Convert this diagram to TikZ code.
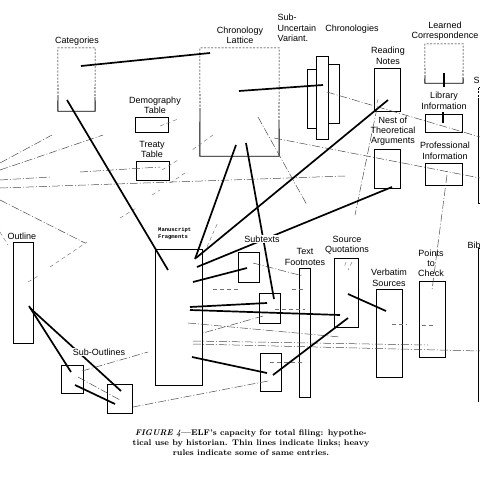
\documentclass[tikz,border=0pt]{standalone}
\usepackage{fontspec}
\newfontfamily\labfont{Liberation Sans}
\newfontfamily\typfont{Liberation Mono}
\usetikzlibrary{fit}
\begin{document}
\begin{tikzpicture}[x=1pt,y=-1pt,
  boxline/.style={line width=0.9pt},
  box/.style={draw, boxline, inner sep=0pt},
  ibox/.style={inner sep=0pt},
  dotedge/.style={line width=0.6pt, dash pattern=on 2pt off 1.5pt},
  lab/.style={font=\labfont\fontsize{9}{10.5}\selectfont, align=center, inner sep=0.5pt},
  heavy/.style={line width=1.7pt},
  link/.style={line width=0.5pt, draw=black!70, dash pattern=on 8pt off 2pt on 1pt off 2pt},
  faint/.style={line width=0.45pt, draw=black!55, dash pattern=on 4pt off 3pt}
]
\useasboundingbox (0,0) rectangle (480,480);

% ---------- boxes ----------
\node[ibox, fit={(58,48) (95,111)}] (cat) {};
\draw[boxline] (58,97) -- (cat.south west) -- (cat.south east) -- (95,97);
\draw[dotedge] (58,97) -- (cat.north west) -- (cat.north east) -- (95,97);

\node[ibox, fit={(200,48) (279,156)}] (chron) {};
\draw[boxline] (200,110) -- (chron.south west) -- (chron.south east) -- (279,120);
\draw[dotedge] (200,110) -- (chron.north west) -- (chron.north east) -- (279,120);

\node[box, fit={(307,69) (320,128)}] (scA) {};
\node[box, fit={(327,64) (339,123)}] (scC) {};
\node[box, fill=white, fit={(316,56) (328,139)}] (scB) {};

\node[box, fit={(374,68) (400,111)}] (reading) {};
\node[box, fit={(374,149) (400,188)}] (nest) {};

\node[ibox, fit={(425,44) (463,83)}] (learned) {};
\draw[boxline] (425,77) -- (learned.south west) -- (learned.south east) -- (463,77);
\draw[dotedge] (425,77) -- (learned.north west) -- (learned.north east) -- (463,77);

\node[box, fit={(425,114) (462,132)}] (library) {};
\node[box, fit={(425,163) (462,185)}] (prof) {};

\coordinate (sTop) at (478,87);
\coordinate (sBot) at (478,203);
\draw[dotedge] (481,87) -- (sTop) -- (478,100);
\draw[boxline] (478,100) -- (sBot) -- (481,203);

\coordinate (bibTop) at (478,248);
\coordinate (bibBot) at (478,402);
\draw[boxline] (481,248) -- (bibTop) -- (bibBot);

\node[box, fit={(419,281) (445,357)}] (points) {};
\node[box, fit={(376,289) (402,377)}] (verb) {};
\node[box, fit={(334,258) (358,327)}] (srcq) {};
\node[box, fit={(299,268) (310,397)}] (textfn) {};
\node[box, fit={(238,252) (259,282)}] (subt) {};
\node[box, fit={(259,293) (280,323)}] (bTwo) {};
\node[box, fit={(260,353) (281,391)}] (bThree) {};
\node[box, fit={(155,249) (202,385)}] (manu) {};
\node[box, fit={(13,242) (33,343)}] (outline) {};
\node[box, fit={(61,365) (83,393)}] (soA) {};
\node[box, fit={(107,384) (132,413)}] (soB) {};
\node[box, fit={(135,117) (168,132)}] (demo) {};
\node[box, fit={(136,161) (169,180)}] (treaty) {};

% ---------- thin link lines ----------
\foreach \a/\b in {
  {(0,163)}/{(52,135)}, {(0,170)}/{(103,135)}, {(0,180)}/{(50,177)},
  {(0,188)}/{(345,176)}, {(0,200)}/{(85,243)}, {(80,172)}/{(160,167)},
  {(327,92)}/{(480,137)}, {(274,138)}/{(480,178)}, {(258,117)}/{(307,205)},
  {(377,108)}/{(355,215)}, {(447,175)}/{(432,290)},
  {(193,341)}/{(428,345)}, {(193,344)}/{(480,351)}, {(188,323)}/{(340,337)},
  {(263,316)}/{(203,333)}, {(268,381)}/{(133,407)}, {(82,371)}/{(148,352)},
  {(78,377)}/{(120,400)}, {(253,263)}/{(303,276)}}
  \draw[link] \a -- \b;
\foreach \a/\b in {
  {(160,126)}/{(178,119)}, {(162,170)}/{(178,160)}, {(170,183)}/{(185,173)},
  {(152,195)}/{(160,190)}, {(213,135)}/{(192,150)}, {(120,218)}/{(138,207)},
  {(50,267)}/{(87,242)}, {(275,309)}/{(305,309)}, {(270,362)}/{(305,362)},
  {(392,324)}/{(407,324)}, {(422,325)}/{(433,325)}, {(213,289)}/{(240,289)},
  {(292,289)}/{(303,289)}, {(207,247)}/{(218,222)}, {(0,232)}/{(8,245)},
  {(28,282)}/{(40,275)}, {(346,262)}/{(344,268)}, {(352,262)}/{(348,270)},
  {(377,103)}/{(379,96)}}
  \draw[faint] \a -- \b;

% ---------- heavy rules ----------
\coordinate (cat1) at (81,66);   \coordinate (chr1) at (210,53);
\coordinate (cat2) at (67,100);  \coordinate (man1) at (168,270);
\coordinate (chr2) at (236,145); \coordinate (man2) at (195,259);
\coordinate (chr3) at (246,143); \coordinate (btw1) at (274,299);
\coordinate (chr4) at (239,91);  \coordinate (sch1) at (323,85);
\coordinate (rea1) at (388,100); \coordinate (man3) at (196,258);
\coordinate (nes1) at (392,187); \coordinate (man4) at (197,267);
\coordinate (man5) at (193,282); \coordinate (sub1) at (247,268);
\coordinate (man6) at (190,307); \coordinate (btw2) at (267,303);
\coordinate (man7) at (190,310); \coordinate (srq1) at (340,315);
\coordinate (srq2) at (348,294); \coordinate (ver1) at (386,311);
\coordinate (srq3) at (348,318); \coordinate (bth1) at (273,375);
\coordinate (man8) at (192,357); \coordinate (bth2) at (267,373);
\coordinate (out1) at (29,306);  \coordinate (soa1) at (71,372);
\coordinate (out2) at (30,308);  \coordinate (sob1) at (121,391);
\coordinate (soa2) at (75,385);  \coordinate (sob2) at (115,404);
\coordinate (lea1) at (444,73);  \coordinate (lea2) at (444,87);
\coordinate (lib1) at (443,112); \coordinate (lib2) at (443,123);

\draw[heavy] (cat1) -- (chr1);
\draw[heavy] (cat2) -- (man1);
\draw[heavy] (chr2) -- (man2);
\draw[heavy] (chr3) -- (btw1);
\draw[heavy] (chr4) -- (sch1);
\draw[heavy] (rea1) -- (man3);
\draw[heavy] (nes1) -- (man4);
\draw[heavy] (man5) -- (sub1);
\draw[heavy] (man6) -- (btw2);
\draw[heavy] (man7) -- (srq1);
\draw[heavy] (srq2) -- (ver1);
\draw[heavy] (srq3) -- (bth1);
\draw[heavy] (man8) -- (bth2);
\draw[heavy] (out1) -- (soa1);
\draw[heavy] (out2) -- (sob1);
\draw[heavy] (soa2) -- (sob2);
\draw[heavy] (lea1) -- (lea2);
\draw[heavy] (lib1) -- (lib2);

% ---------- labels ----------
\node[lab] (lCat) at (77,41) {Categories};
\node[lab] (lChron) at (240,35.5) {Chronology\\Lattice};
\node[lab, align=left, anchor=west] (lSub) at (277,28) {Sub-\\Uncertain\\Variant.};
\node[lab] (lChr) at (352,29) {Chronologies};
\node[lab] (lRead) at (388,56) {Reading\\Notes};
\node[lab, font=\labfont\fontsize{9}{10}\selectfont] (lNest) at (393,131) {Nest of\\Theoretical\\Arguments};
\node[lab] (lLearn) at (445,31) {Learned\\Correspondence};
\node[lab] (lLib) at (444,101) {Library\\Information};
\node[lab] (lProf) at (445,151) {Professional\\Information};
\node[lab, anchor=west] (lS) at (473,80) {S};
\node[lab, anchor=west] (lBib) at (467,245) {Bib};
\node[lab, font=\labfont\fontsize{9}{10}\selectfont] (lPts) at (431,263) {Points\\to\\Check};
\node[lab] (lVerb) at (389,278) {Verbatim\\Sources};
\node[lab] (lSrc) at (347,245) {Source\\Quotations};
\node[lab] (lText) at (305,257) {Text\\Footnotes};
\node[lab, fill=white] (lSubt) at (262,239) {Subtexts};
\node[align=left, anchor=west, inner sep=0pt, font=\typfont\bfseries\fontsize{5.5}{7}\selectfont] (lMan) at (158,233.5) {Manuscript\\Fragments};
\node[lab] (lOut) at (22,236) {Outline};
\node[lab, fill=white] (lSO) at (99,352) {Sub-Outlines};
\node[lab] (lDemo) at (155,105.5) {Demography\\Table};
\node[lab] (lTreaty) at (152,149.5) {Treaty\\Table};

\node[align=center, inner sep=0pt, font=\bfseries\fontsize{8.2}{10}\selectfont] (caption) at (251,443)
  {\textit{FIGURE 4}---ELF's capacity for total filing: hypothe-\\tical use by historian. Thin lines indicate links; heavy\\rules indicate some of same entries.};
\end{tikzpicture}
\end{document}
